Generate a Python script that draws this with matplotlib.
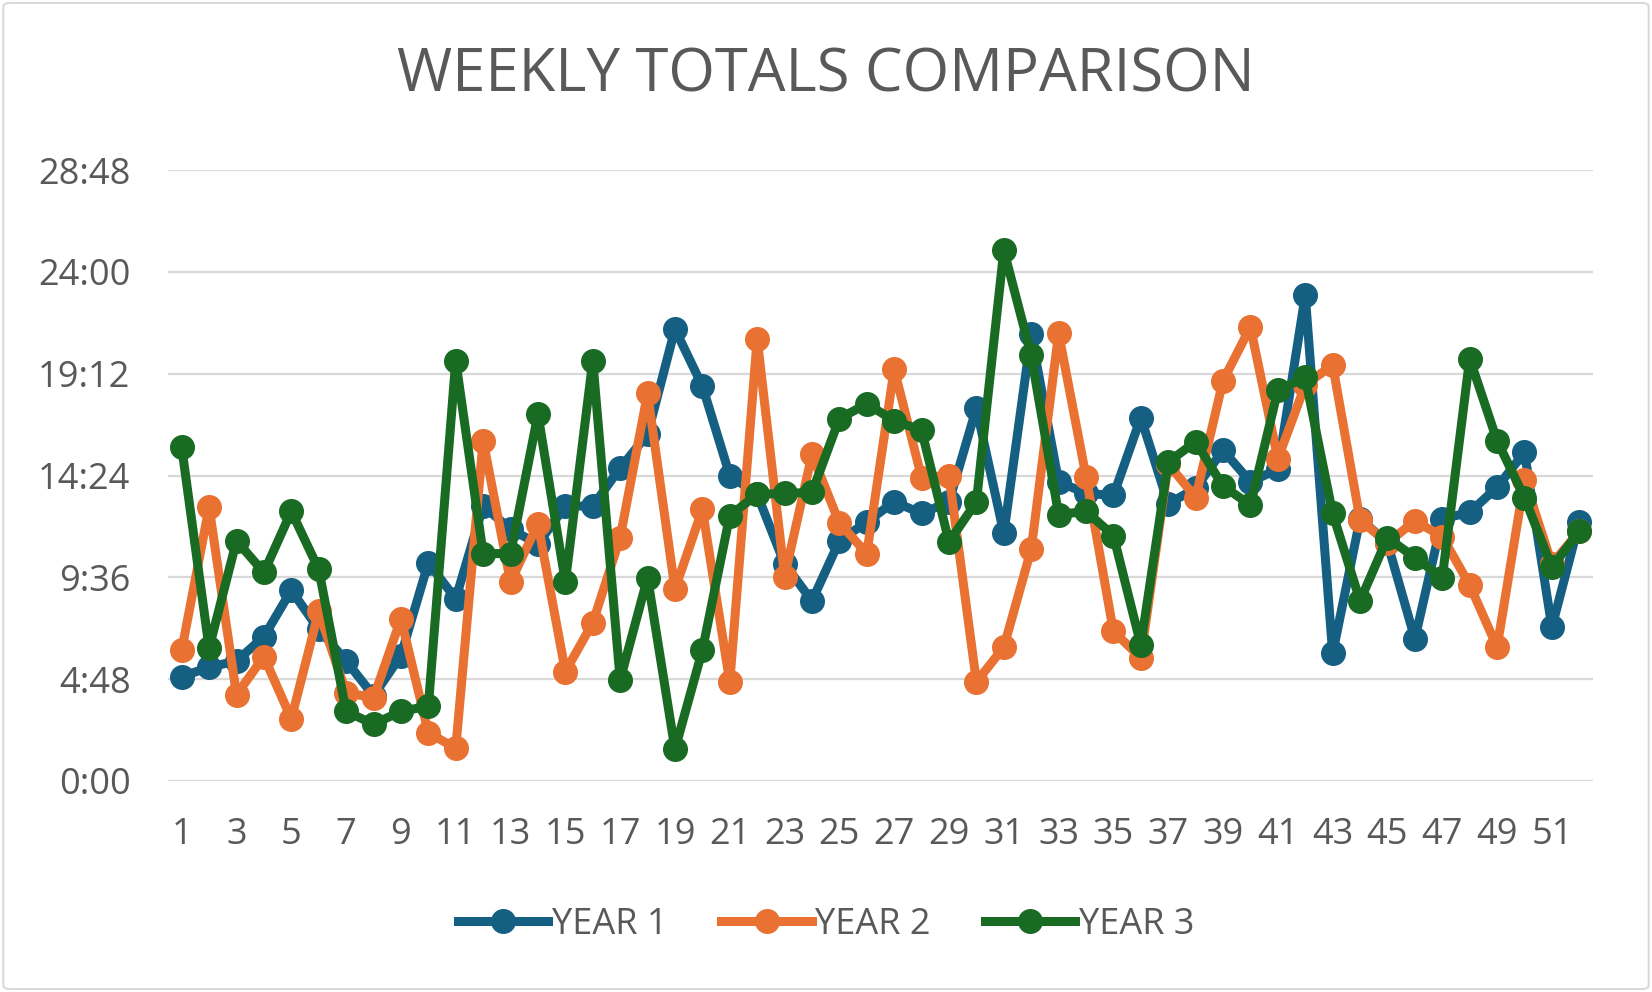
import matplotlib.pyplot as plt
from matplotlib.ticker import FuncFormatter, MultipleLocator
from matplotlib.patches import FancyBboxPatch

# weekly totals, in hours
weeks = list(range(1, 53))
year1 = [4.92, 5.36, 5.66, 6.80, 8.99, 7.15, 5.66, 4.02, 5.91, 10.28,
         8.59, 12.96, 11.87, 11.17, 12.96, 12.96, 14.75, 16.34, 21.30, 18.62,
         14.40, 13.51, 10.23, 8.49, 11.32, 12.21, 13.16, 12.61, 13.16, 17.58,
         11.67, 21.05, 14.10, 13.56, 13.46, 17.13, 13.06, 13.80, 15.59, 14.10,
         14.70, 22.89, 6.01, 12.36, 11.22, 6.70, 12.36, 12.66, 13.85, 15.49,
         7.25, 12.21]
year2 = [6.16, 12.91, 4.07, 5.86, 2.93, 7.99, 4.17, 3.92, 7.65, 2.28,
         1.54, 16.04, 9.38, 12.12, 5.16, 7.45, 11.47, 18.27, 9.04, 12.81,
         4.67, 20.85, 9.63, 15.39, 12.16, 10.72, 19.41, 14.30, 14.40, 4.67,
         6.31, 10.92, 21.10, 14.35, 7.05, 5.81, 14.95, 13.36, 18.87, 21.40,
         15.19, 18.67, 19.61, 12.31, 11.22, 12.26, 11.52, 9.24, 6.31, 14.20,
         10.23, 11.77]
year3 = [15.74, 6.26, 11.32, 9.83, 12.71, 9.98, 3.28, 2.68, 3.28, 3.53,
         19.81, 10.72, 10.72, 17.28, 9.38, 19.81, 4.77, 9.58, 1.49, 6.16,
         12.51, 13.51, 13.56, 13.60, 17.08, 17.78, 16.98, 16.53, 11.27, 13.16,
         25.02, 20.06, 12.56, 12.71, 11.57, 6.41, 15.04, 15.99, 13.90, 13.01,
         18.42, 19.02, 12.61, 8.49, 11.47, 10.53, 9.58, 19.91, 16.04, 13.36,
         10.08, 11.77]

series = [("YEAR 1", year1, "#156082"),
          ("YEAR 2", year2, "#E97132"),
          ("YEAR 3", year3, "#196B24")]

TXT = "#595959"
plt.rcParams['font.family'] = ['Open Sans', 'DejaVu Sans']


def hmm(v, pos):
    mins = int(round(v * 60))
    return "%d:%02d" % (mins // 60, mins % 60)


fig = plt.figure(figsize=(16.52, 9.92), dpi=100)
fig.patches.append(FancyBboxPatch((0.002, 0.003), 0.996, 0.994,
                                  boxstyle="round,pad=0,rounding_size=0.004",
                                  transform=fig.transFigure, fc="white",
                                  ec="#D9D9D9", lw=1.5, zorder=-1))

ax = fig.add_axes([168 / 1652, 1 - 781 / 992, (1593 - 168) / 1652, (781 - 170) / 992])

for name, vals, col in series:
    ax.plot(weeks, vals, color=col, lw=6.5, marker="o", ms=17,
            solid_joinstyle="round", label=name, zorder=3)

ax.set_xlim(0.5, 52.5)
ax.set_ylim(0, 28.8)
ax.yaxis.set_major_locator(MultipleLocator(4.8))
ax.yaxis.set_major_formatter(FuncFormatter(hmm))
ax.set_xticks(weeks[::2])
ax.grid(axis="y", color="#D9D9D9", lw=1.6, zorder=0)
for s in ax.spines.values():
    s.set_visible(False)
ax.tick_params(length=0, labelsize=26, labelcolor=TXT)
ax.tick_params(axis="x", pad=26)
ax.tick_params(axis="y", pad=27)

fig.text(0.5, 1 - 76 / 992, "WEEKLY TOTALS COMPARISON", ha="center", va="center",
         fontsize=43, color=TXT)

fig.legend(loc="center", bbox_to_anchor=(0.5, 1 - 925 / 992), ncol=3, frameon=False,
           fontsize=26, labelcolor=TXT, handlelength=2.5, handletextpad=0.1,
           columnspacing=1.5)

fig.savefig("out.png", dpi=100)
